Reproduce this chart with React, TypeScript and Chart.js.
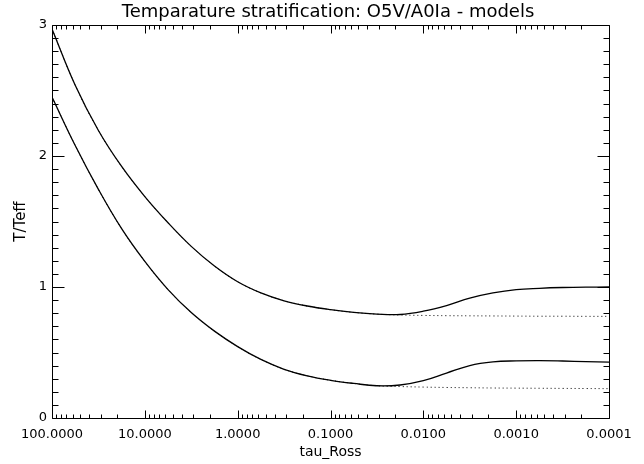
import React, { useEffect, useRef } from 'react';
import { Chart, registerables } from 'chart.js';

Chart.register(...registerables);

// Rosseland optical depth grid (read positions along the log axis)
const tauRoss = [
  100, 56.23, 31.62, 17.78, 10, 5.623, 3.162, 1.778, 1, 0.5623, 0.3162, 0.1778,
  0.1, 0.05623, 0.03162, 0.01778, 0.01, 0.005623, 0.003162, 0.001778, 0.001,
  0.0005623, 0.0003162, 0.0001778, 0.0001,
];

// Upper model: solid curve and dotted comparison curve
const upperModel = [
  2.97, 2.54, 2.195, 1.92, 1.69, 1.49, 1.31, 1.16, 1.04, 0.955, 0.895, 0.855, 0.827,
  0.806, 0.793, 0.79, 0.815, 0.858, 0.915, 0.955, 0.98, 0.99, 0.996, 0.999, 1.0,
];
const upperDotted = [
  2.97, 2.54, 2.195, 1.92, 1.69, 1.49, 1.31, 1.16, 1.04, 0.955, 0.895, 0.855, 0.827,
  0.806, 0.793, 0.786, 0.783, 0.781, 0.78, 0.779, 0.778, 0.777, 0.777, 0.776, 0.776,
];

// Lower model: solid curve and dotted comparison curve
const lowerModel = [
  2.45, 2.08, 1.745, 1.445, 1.195, 0.98, 0.805, 0.663, 0.545, 0.447, 0.372, 0.322, 0.288,
  0.264, 0.246, 0.252, 0.285, 0.343, 0.4, 0.428, 0.436, 0.438, 0.435, 0.43, 0.427,
];
const lowerDotted = [
  2.45, 2.08, 1.745, 1.445, 1.195, 0.98, 0.805, 0.663, 0.545, 0.447, 0.372, 0.322, 0.288,
  0.264, 0.246, 0.24, 0.236, 0.233, 0.231, 0.229, 0.228, 0.227, 0.226, 0.225, 0.224,
];

const xTickValues = [100, 10, 1, 0.1, 0.01, 0.001, 0.0001];
const yTickValues = [0, 1, 2, 3];

const titleText = 'Temparature stratification: O5V/A0Ia - models';
const xTitleText = 'tau_Ross';
const yTitleText = 'T/Teff';

const FONT = '"DejaVu Sans", "Liberation Sans", sans-serif';

const toPoints = (ys: number[]) => tauRoss.map((t, i) => ({ x: t, y: ys[i] }));

const idlFrame = {
  id: 'idlFrame',
  afterDraw(chart: any) {
    const { ctx, chartArea: a, scales } = chart;
    const xs = scales.x;
    const ys = scales.y;
    const L = Math.round(a.left) + 0.5;
    const R = Math.round(a.right) + 0.5;
    const T = Math.round(a.top) + 0.5;
    const B = Math.round(a.bottom) + 0.5;
    ctx.save();
    ctx.strokeStyle = '#000';
    ctx.lineWidth = 1;
    ctx.beginPath();
    ctx.rect(L, T, R - L, B - T);
    // y ticks (major every 1, minor every 0.1), inward on both sides
    for (let i = 0; i <= 30; i++) {
      const py = Math.round(ys.getPixelForValue(i / 10)) + 0.5;
      const len = i % 10 === 0 ? 12 : 6;
      ctx.moveTo(L, py);
      ctx.lineTo(L + len, py);
      ctx.moveTo(R, py);
      ctx.lineTo(R - len, py);
    }
    // x ticks (log decades + 2..9 minors), inward on top and bottom
    for (let e = -4; e <= 2; e++) {
      for (let m = 1; m <= 9; m++) {
        const v = m * Math.pow(10, e);
        if (v > 100.0001) break;
        const px = Math.round(xs.getPixelForValue(v)) + 0.5;
        const len = m === 1 ? 8 : 4;
        ctx.moveTo(px, B);
        ctx.lineTo(px, B - len);
        ctx.moveTo(px, T);
        ctx.lineTo(px, T + len);
      }
    }
    ctx.stroke();

    ctx.fillStyle = '#000';
    // main title
    ctx.font = '18px ' + FONT;
    ctx.textAlign = 'center';
    ctx.textBaseline = 'alphabetic';
    ctx.fillText(titleText, 328, 16.5);
    // x title
    ctx.font = '14px ' + FONT;
    ctx.fillText(xTitleText, (a.left + a.right) / 2, 455.5);
    // y title
    ctx.translate(25, (a.top + a.bottom) / 2);
    ctx.rotate(-Math.PI / 2);
    ctx.font = '15px ' + FONT;
    ctx.textBaseline = 'alphabetic';
    ctx.fillText(yTitleText, 0, 0);
    ctx.restore();
  },
};

export default function App() {
  const canvasRef = useRef<HTMLCanvasElement | null>(null);

  useEffect(() => {
    const canvas = canvasRef.current;
    if (!canvas) return;
    const solid = { borderColor: '#000', borderWidth: 1.3, pointRadius: 0, fill: false, tension: 0.4 };
    const dotted = { borderColor: '#000', borderWidth: 1, borderDash: [1, 3], pointRadius: 0, fill: false, tension: 0.4 };
    const chart = new Chart(canvas, {
      type: 'line',
      data: {
        datasets: [
          { label: 'upper', data: toPoints(upperModel), ...solid },
          { label: 'lower', data: toPoints(lowerModel), ...solid },
          { label: 'upper grey', data: toPoints(upperDotted), ...dotted },
          { label: 'lower grey', data: toPoints(lowerDotted), ...dotted },
        ],
      },
      options: {
        animation: false,
        responsive: false,
        devicePixelRatio: 1,
        layout: { padding: { left: 0, top: 25, right: 35, bottom: 0 } },
        plugins: { legend: { display: false }, tooltip: { enabled: false }, title: { display: false } },
        scales: {
          x: {
            type: 'logarithmic',
            reverse: true,
            min: 0.0001,
            max: 100,
            grid: { display: false, drawTicks: false },
            border: { display: false },
            afterBuildTicks: (s: any) => {
              s.ticks = xTickValues.map((v) => ({ value: v }));
            },
            afterFit: (s: any) => {
              s.height = 46;
            },
            ticks: {
              autoSkip: false,
              maxRotation: 0,
              minRotation: 0,
              padding: 9,
              color: '#000',
              font: { family: FONT, size: 13 },
              callback: (v: any) => Number(v).toFixed(4),
            },
          },
          y: {
            type: 'linear',
            min: 0,
            max: 3,
            grid: { display: false, drawTicks: false },
            border: { display: false },
            afterBuildTicks: (s: any) => {
              s.ticks = yTickValues.map((v) => ({ value: v }));
            },
            afterFit: (s: any) => {
              s.width = 52;
            },
            ticks: {
              padding: 5,
              color: '#000',
              font: { family: FONT, size: 13 },
              callback: (v: any) => String(v),
            },
          },
        },
      },
      plugins: [idlFrame],
    });
    return () => chart.destroy();
  }, []);

  return (
    <div style={{ position: 'fixed', left: 0, top: 0, width: 644, height: 464, background: '#fff' }}>
      <canvas ref={canvasRef} width={644} height={464} style={{ display: 'block', width: 644, height: 464 }} />
    </div>
  );
}
